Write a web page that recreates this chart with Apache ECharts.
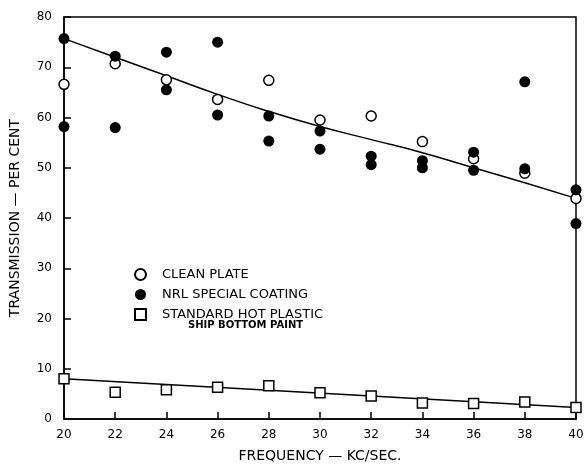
<!DOCTYPE html>
<html>
<head>
<meta charset="utf-8">
<script src="https://cdn.jsdelivr.net/npm/echarts@6/dist/echarts.min.js"></script>
<style>html,body{margin:0;padding:0;background:#fff}#c{width:587px;height:468px}</style>
</head>
<body>
<div id="c"></div>
<script>
var xTicks = [20, 22, 24, 26, 28, 30, 32, 34, 36, 38, 40];
var yTicks = [0, 10, 20, 30, 40, 50, 60, 70, 80];
var cleanPlate = [[20,66.6],[22,70.7],[24,67.5],[26,63.6],[28,67.4],[30,59.5],[32,60.3],[34,55.2],[36,51.8],[38,48.9],[40,43.9]];
var nrlCoating = [[20,75.7],[20,58.2],[22,72.2],[22,58.0],[24,73.0],[24,65.5],[26,75.0],[26,60.5],[28,60.3],[28,55.3],[30,57.3],[30,53.7],[32,52.3],[32,50.6],[34,51.4],[34,50.0],[36,53.1],[36,49.5],[38,67.1],[38,49.8],[40,45.6],[40,38.9]];
var hotPlastic = [[20,8.0],[22,5.3],[24,5.8],[26,6.3],[28,6.6],[30,5.2],[32,4.6],[34,3.2],[36,3.1],[38,3.4],[40,2.3]];
var upperFit = [[20,75.7],[22,72.0],[24,68.3],[26,64.6],[28,61.2],[30,58.2],[32,55.6],[34,53.0],[36,50.0],[38,47.0],[40,43.9]];
var lowerFit = [[20,8.0],[40,2.3]];
var seriesNames = ['CLEAN PLATE', 'NRL SPECIAL COATING', 'STANDARD HOT PLASTIC'];
var subNote = 'SHIP BOTTOM PAINT';

var font = 'DejaVu Sans';
var chart = echarts.init(document.getElementById('c'));
chart.setOption({
  animation: false,
  backgroundColor: '#fff',
  grid: {left: 63, right: 11, top: 17, bottom: 48, show: true, borderColor: '#000', borderWidth: 1.5},
  xAxis: {
    type: 'value', min: 20, max: 40, interval: 2,
    name: 'FREQUENCY — KC/SEC.', nameLocation: 'middle', nameGap: 30,
    nameTextStyle: {color: '#000', fontFamily: font, fontSize: 14},
    axisLine: {show: true, lineStyle: {color: '#000', width: 1.5}},
    axisTick: {show: true, inside: true, length: 7, lineStyle: {color: '#000', width: 1.5}},
    axisLabel: {color: '#000', fontFamily: font, fontSize: 12, margin: 10, formatter: function(v){ return xTicks.indexOf(v) >= 0 ? String(v) : ''; }},
    splitLine: {show: false}
  },
  yAxis: {
    type: 'value', min: 0, max: 80, interval: 10,
    name: 'TRANSMISSION — PER CENT', nameLocation: 'middle', nameGap: 42,
    nameTextStyle: {color: '#000', fontFamily: font, fontSize: 14},
    axisLine: {show: true, lineStyle: {color: '#000', width: 1.5}},
    axisTick: {show: true, inside: true, length: 7, lineStyle: {color: '#000', width: 1.5}},
    axisLabel: {color: '#000', fontFamily: font, fontSize: 12, margin: 12, formatter: function(v){ return yTicks.indexOf(v) >= 0 ? String(v) : ''; }},
    splitLine: {show: false}
  },
  legend: {
    data: seriesNames, orient: 'vertical', left: 129, top: 263,
    itemWidth: 11, itemHeight: 11, itemGap: 7, selectedMode: false,
    textStyle: {color: '#000', fontFamily: font, fontSize: 13, padding: [0, 0, 0, 11]}
  },
  graphic: [{
    type: 'text', left: 188, top: 320,
    style: {text: subNote, fill: '#000', font: 'bold 10px "DejaVu Sans"'}
  }],
  series: [
    {type: 'line', data: upperFit, smooth: true, symbol: 'none', lineStyle: {color: '#000', width: 1.5}, z: 1, silent: true},
    {type: 'line', data: lowerFit, symbol: 'none', lineStyle: {color: '#000', width: 1.5}, z: 1, silent: true},
    {name: seriesNames[0], type: 'scatter', data: cleanPlate, symbol: 'circle', symbolSize: 10,
     itemStyle: {color: '#fff', borderColor: '#000', borderWidth: 1.5, opacity: 1}, z: 3},
    {name: seriesNames[1], type: 'scatter', data: nrlCoating, symbol: 'circle', symbolSize: 11,
     itemStyle: {color: '#000', borderColor: '#000', borderWidth: 0, opacity: 1}, z: 4},
    {name: seriesNames[2], type: 'scatter', data: hotPlastic, symbol: 'rect', symbolSize: 10,
     itemStyle: {color: '#fff', borderColor: '#000', borderWidth: 1.5, opacity: 1}, z: 3}
  ]
});
</script>
</body>
</html>
